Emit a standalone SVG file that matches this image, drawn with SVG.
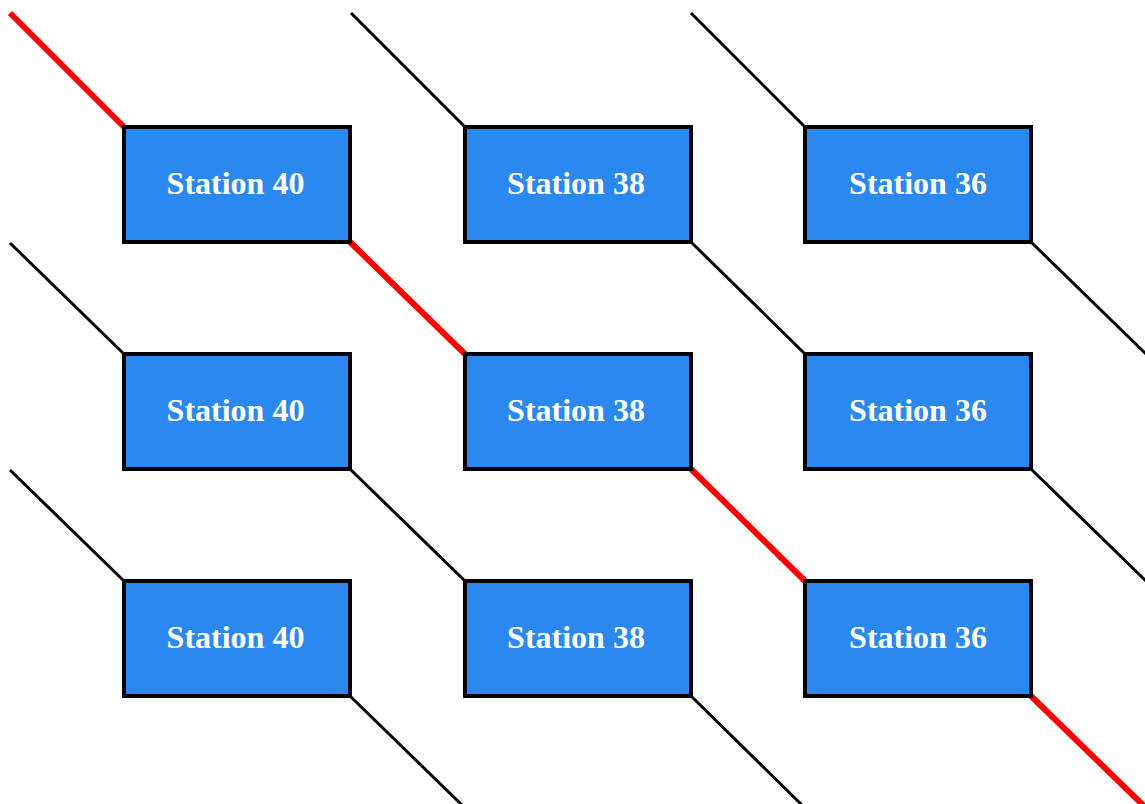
<svg xmlns="http://www.w3.org/2000/svg" width="1145" height="804" viewBox="0 0 1145 804">
<style>
.box{fill:#2A88EF;stroke:#000;stroke-width:4}
.lbl{font-family:"Liberation Serif","Times New Roman",serif;font-weight:bold;font-size:32px;fill:#fff;text-anchor:middle}
.k{stroke:#000;stroke-width:3;fill:none}
.r{stroke:#ff0000;stroke-width:6;fill:none}
</style>
<rect width="1145" height="804" fill="#fff"/>
<g id="connectors">
<line class="r" x1="10" y1="13" x2="124" y2="127"/>
<line class="k" x1="351" y1="13" x2="465" y2="127"/>
<line class="k" x1="691" y1="13" x2="805" y2="127"/>
<line class="k" x1="10" y1="243" x2="124" y2="354"/>
<line class="r" x1="350" y1="242" x2="465" y2="354"/>
<line class="k" x1="691" y1="242" x2="805" y2="354"/>
<line class="k" x1="1031" y1="242" x2="1146" y2="354"/>
<line class="k" x1="10" y1="470" x2="124" y2="581"/>
<line class="k" x1="350" y1="469" x2="465" y2="581"/>
<line class="r" x1="691" y1="469" x2="805" y2="581"/>
<line class="k" x1="1031" y1="469" x2="1146" y2="581"/>
<line class="k" x1="350" y1="696" x2="465" y2="808"/>
<line class="k" x1="691" y1="696" x2="805" y2="808"/>
<line class="r" x1="1031" y1="696" x2="1146" y2="808"/>
</g>
<g id="n1"><rect class="box" x="124" y="127" width="226" height="115"/><text class="lbl" x="235.5" y="194">Station 40</text></g>
<g id="n2"><rect class="box" x="465" y="127" width="226" height="115"/><text class="lbl" x="576" y="194">Station 38</text></g>
<g id="n3"><rect class="box" x="805" y="127" width="226" height="115"/><text class="lbl" x="918" y="194">Station 36</text></g>
<g id="n4"><rect class="box" x="124" y="354" width="226" height="115"/><text class="lbl" x="235.5" y="421">Station 40</text></g>
<g id="n5"><rect class="box" x="465" y="354" width="226" height="115"/><text class="lbl" x="576" y="421">Station 38</text></g>
<g id="n6"><rect class="box" x="805" y="354" width="226" height="115"/><text class="lbl" x="918" y="421">Station 36</text></g>
<g id="n7"><rect class="box" x="124" y="581" width="226" height="115"/><text class="lbl" x="235.5" y="648">Station 40</text></g>
<g id="n8"><rect class="box" x="465" y="581" width="226" height="115"/><text class="lbl" x="576" y="648">Station 38</text></g>
<g id="n9"><rect class="box" x="805" y="581" width="226" height="115"/><text class="lbl" x="918" y="648">Station 36</text></g>
</svg>
